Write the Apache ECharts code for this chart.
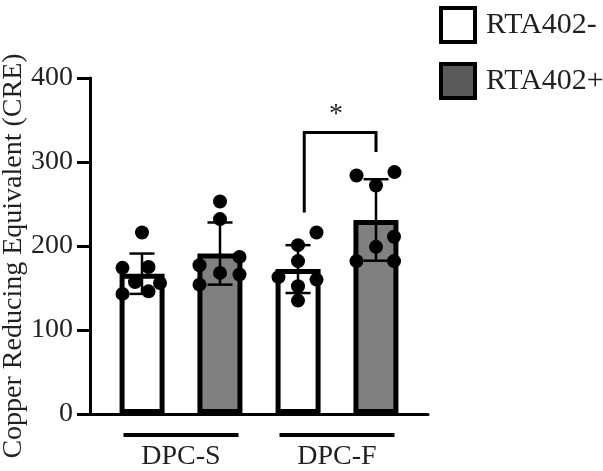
<!DOCTYPE html>
<html>
<head>
<meta charset="utf-8">
<script src="https://cdn.jsdelivr.net/npm/echarts@6/dist/echarts.min.js"></script>
<style>html,body{margin:0;padding:0;background:#fff}#c{width:603px;height:471px}</style>
</head>
<body>
<div id="c"></div>
<script>
// ---- data ----
var groups = ['DPC-S', 'DPC-F'];
var seriesNames = ['RTA402-', 'RTA402+'];
var meanMinus = [167, 172.5];
var meanPlus = [191, 231];
var sdMinus = [24, 28.5];
var sdPlus = [37, 48.5];
// individual points per bar
var ptsSMinus = [216, 174, 175, 157, 156, 143, 146];
var ptsSPlus  = [253, 232, 187, 177, 168, 166, 154];
var ptsFMinus = [216, 201, 182, 163, 160, 152, 135];
var ptsFPlus  = [284, 288, 272, 211, 199, 182, 182];
// horizontal jitter of points, as fraction of bar width
var jitSMinus = [0, -0.39, 0.13, -0.14, 0.36, -0.39, 0.13];
var jitSPlus  = [0, 0, 0.39, -0.41, 0, 0.39, -0.41];
var jitFMinus = [0.37, 0, 0, -0.39, 0.37, 0, 0];
var jitFPlus  = [-0.39, 0.37, 0, 0.36, 0, -0.39, 0.36];
var yTicks = [0, 100, 200, 300, 400];
// significance bracket (between bar 3 and bar 4)
var sigBars = [2, 3];
var sigTop = 335;
var sigLeftBottom = 240;
var sigRightBottom = 312;
var sigLabel = '*';
var yTitle = 'Copper Reducing Equivalent (CRE)';

// ---- build ----
var FONT = '"Liberation Serif", "Times New Roman", serif';
var TXT = '#231f20';
var barWidthUnits = 50 / 78; // bar width relative to bar spacing
var allPts = [ptsSMinus, ptsSPlus, ptsFMinus, ptsFPlus];
var allJit = [jitSMinus, jitSPlus, jitFMinus, jitFPlus];
var means = [meanMinus[0], meanPlus[0], meanMinus[1], meanPlus[1]];
var sds = [sdMinus[0], sdPlus[0], sdMinus[1], sdPlus[1]];
var dots = [];
allPts.forEach(function (arr, b) {
  arr.forEach(function (v, i) {
    dots.push([b + 0.5 + allJit[b][i] * barWidthUnits, v]);
  });
});
var errData = means.map(function (m, b) { return [b + 0.5, m - sds[b], m + sds[b]]; });

var chart = echarts.init(document.getElementById('c'));
chart.setOption({
  animation: false,
  backgroundColor: '#fff',
  grid: [
    { left: 90, width: 338, top: 78, bottom: 57 },
    { left: 103, width: 312, top: 78, bottom: 57 }
  ],
  legend: {
    orient: 'vertical', left: 439, top: 6, padding: 0,
    itemWidth: 34, itemHeight: 34, itemGap: 18,
    icon: 'rect',
    textStyle: { fontFamily: FONT, fontSize: 30, color: TXT, padding: [0, 0, 0, 6] },
    data: [
      { name: seriesNames[0], itemStyle: { color: '#fff', borderColor: '#000', borderWidth: 4 } },
      { name: seriesNames[1], itemStyle: { color: '#5a5a5a', borderColor: '#000', borderWidth: 4 } }
    ]
  },
  xAxis: [
    { gridIndex: 0, type: 'value', min: 0, max: 1,
      axisLine: { show: true, lineStyle: { color: '#000', width: 3 } },
      axisTick: { show: false }, axisLabel: { show: false }, splitLine: { show: false } },
    { gridIndex: 1, type: 'category', data: groups,
      axisLine: { show: false }, axisTick: { show: false }, splitLine: { show: false },
      axisLabel: {
        margin: 19,
        formatter: function (v) { return '{l|}\n{t|' + v + '}'; },
        rich: {
          l: { width: 115, height: 4, lineHeight: 4, backgroundColor: '#000' },
          t: { fontFamily: FONT, fontSize: 28, color: TXT, lineHeight: 40 }
        }
      } },
    { gridIndex: 1, type: 'value', min: 0, max: 4, show: false }
  ],
  yAxis: [
    { gridIndex: 0, type: 'value', min: yTicks[0], max: yTicks[yTicks.length - 1], interval: 100,
      axisLine: { show: true, lineStyle: { color: '#000', width: 3 } },
      axisTick: { show: true, length: 13, lineStyle: { color: '#000', width: 3 } },
      axisLabel: { margin: 17, fontFamily: FONT, fontSize: 28, color: TXT },
      splitLine: { show: false } },
    { gridIndex: 1, type: 'value', min: 0, max: 400, show: false }
  ],
  graphic: [{
    type: 'text', x: 14, y: 256, rotation: Math.PI / 2,
    style: { text: yTitle, font: '28px ' + FONT, fill: TXT, textAlign: 'center', textVerticalAlign: 'middle' }
  }],
  series: [
    { name: seriesNames[0], type: 'bar', xAxisIndex: 1, yAxisIndex: 1, data: meanMinus,
      barWidth: 45, barGap: '73%',
      itemStyle: { color: '#fff', borderColor: '#000', borderWidth: 5 }, z: 2 },
    { name: seriesNames[1], type: 'bar', xAxisIndex: 1, yAxisIndex: 1, data: meanPlus,
      barWidth: 45, barGap: '73%',
      itemStyle: { color: '#808080', borderColor: '#000', borderWidth: 5 }, z: 2 },
    { type: 'custom', xAxisIndex: 2, yAxisIndex: 1, data: errData, z: 3,
      renderItem: function (params, api) {
        var x = api.value(0);
        var lo = api.coord([x, api.value(1)]);
        var hi = api.coord([x, api.value(2)]);
        var hw = 12.5;
        var st = { stroke: '#000', lineWidth: 2.5 };
        return { type: 'group', children: [
          { type: 'line', shape: { x1: lo[0], y1: lo[1], x2: hi[0], y2: hi[1] }, style: st },
          { type: 'line', shape: { x1: lo[0] - hw, y1: lo[1], x2: lo[0] + hw, y2: lo[1] }, style: st },
          { type: 'line', shape: { x1: hi[0] - hw, y1: hi[1], x2: hi[0] + hw, y2: hi[1] }, style: st }
        ] };
      } },
    { type: 'scatter', xAxisIndex: 2, yAxisIndex: 1, data: dots, symbolSize: 14,
      itemStyle: { color: '#000', opacity: 1 }, z: 4 },
    { type: 'custom', xAxisIndex: 2, yAxisIndex: 1, z: 5,
      data: [[sigBars[0] + 0.5 + 0.08, sigBars[1] + 0.5, sigTop, sigLeftBottom, sigRightBottom]],
      renderItem: function (params, api) {
        var x1 = api.value(0), x2 = api.value(1);
        var pLB = api.coord([x1, api.value(3)]);
        var pLT = api.coord([x1, api.value(2)]);
        var pRT = api.coord([x2, api.value(2)]);
        var pRB = api.coord([x2, api.value(4)]);
        return { type: 'group', children: [
          { type: 'polyline', shape: { points: [pLB, pLT, pRT, pRB] },
            style: { stroke: '#000', lineWidth: 3, fill: null } },
          { type: 'text', x: (pLT[0] + pRT[0]) / 2 - 4, y: pLT[1] - 4,
            style: { text: sigLabel, font: '28px ' + FONT, fill: TXT, textAlign: 'center', textVerticalAlign: 'bottom' } }
        ] };
      } }
  ]
});
</script>
</body>
</html>
